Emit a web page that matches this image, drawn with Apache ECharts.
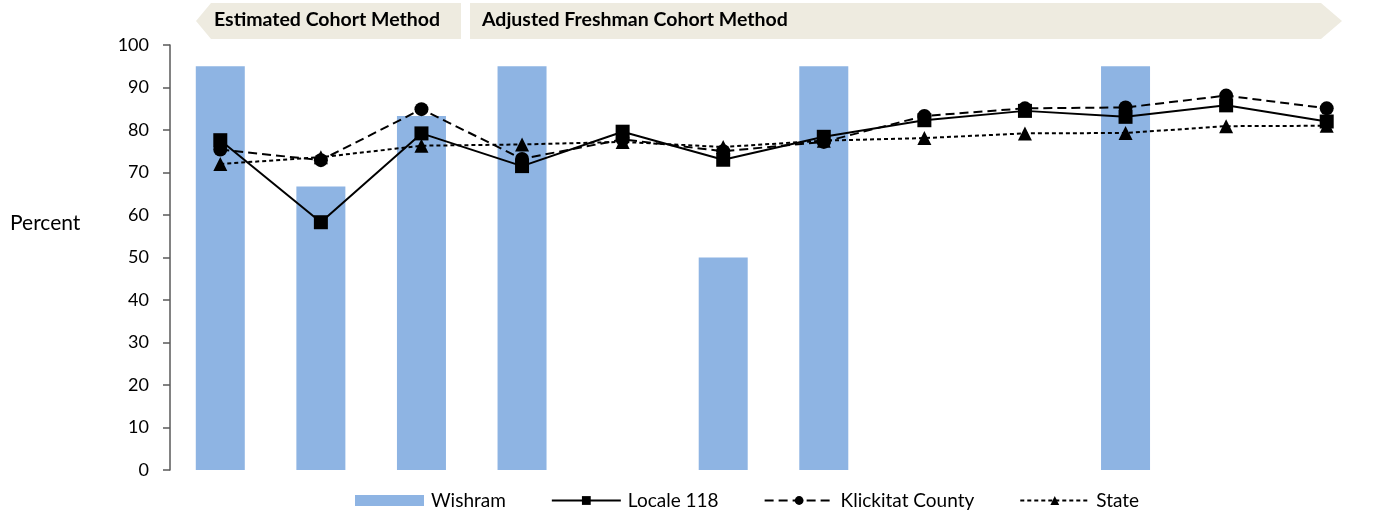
<!DOCTYPE html>
<html>
<head>
<meta charset="utf-8">
<script src="https://cdn.jsdelivr.net/npm/echarts@6/dist/echarts.min.js"></script>
<style>
  html, body { margin: 0; padding: 0; background: #fff; }
  #main { width: 1395px; height: 514px; }
</style>
</head>
<body>
<div id="main"></div>
<script>
// cohorts along the x axis (no labels shown on the chart)
var categories = ['1', '2', '3', '4', '5', '6', '7', '8', '9', '10', '11', '12'];

var wishram = [95, 66.7, 83.3, 95, null, 50, 95, null, null, 95, null, null];
var locale118 = [77.6, 58.3, 79.2, 71.5, 79.6, 73, 78.4, 82.3, 84.5, 83.1, 85.8, 82];
var klickitat = [75.4, 72.9, 84.9, 73.2, 77.8, 75, 77.2, 83.3, 85.1, 85.3, 88.1, 85.1];
var state = [72, 73.6, 76.3, 76.6, 77.2, 76, 77.5, 78.1, 79.2, 79.3, 80.9, 81];

var yTicks = { min: 0, max: 100, interval: 10 };

var banners = ['Estimated Cohort Method', 'Adjusted Freshman Cohort Method'];

var chartDom = document.getElementById('main');
var myChart = echarts.init(chartDom);
var font = 'Lato, "Open Sans", sans-serif';

var option = {
    animation: false,
    textStyle: { fontFamily: font },
    grid: { left: 170, right: 18, top: 45, bottom: 44 },
    legend: {
        left: 350,
        top: 486,
        itemWidth: 69,
        itemHeight: 11,
        itemGap: 45,
        textStyle: { fontSize: 19, color: '#000', fontFamily: font, padding: [0, 0, 0, 2] },
        data: [
            { name: 'Wishram', icon: 'rect' },
            'Locale 118',
            'Klickitat County',
            'State'
        ]
    },
    xAxis: {
        type: 'category',
        data: categories,
        axisLine: { show: false },
        axisTick: { show: false },
        axisLabel: { show: false }
    },
    yAxis: {
        type: 'value',
        min: yTicks.min,
        max: yTicks.max,
        interval: yTicks.interval,
        axisLine: { show: true, lineStyle: { color: '#595959', width: 1.5 } },
        axisTick: { show: true, length: 7, lineStyle: { color: '#595959', width: 1.5 } },
        axisLabel: { fontSize: 18, color: '#000', margin: 21 },
        splitLine: { show: false }
    },
    graphic: [
        {
            type: 'polygon',
            shape: { points: [[196, 21], [211, 3], [461, 3], [461, 39], [211, 39]] },
            style: { fill: '#EEEBE0' }
        },
        {
            type: 'polygon',
            shape: { points: [[470, 3], [1321, 3], [1342, 21], [1321, 39], [470, 39]] },
            style: { fill: '#EEEBE0' }
        },
        {
            type: 'text',
            x: 214,
            y: 20,
            style: {
                text: banners[0], font: 'bold 19.5px ' + font, fill: '#000',
                verticalAlign: 'middle'
            }
        },
        {
            type: 'text',
            x: 482,
            y: 20,
            style: {
                text: banners[1], font: 'bold 19.5px ' + font, fill: '#000',
                verticalAlign: 'middle'
            }
        },
        {
            type: 'text',
            x: 10,
            y: 223,
            style: {
                text: 'Percent', font: '21px ' + font, fill: '#000',
                verticalAlign: 'middle'
            }
        }
    ],
    series: [
        {
            name: 'Wishram',
            type: 'bar',
            data: wishram,
            barWidth: 49,
            itemStyle: { color: '#8EB4E3' }
        },
        {
            name: 'Locale 118',
            type: 'line',
            data: locale118,
            symbol: 'rect',
            symbolSize: 14,
            itemStyle: { color: '#000' },
            lineStyle: { color: '#000', width: 2, type: 'solid' },
            z: 5
        },
        {
            name: 'Klickitat County',
            type: 'line',
            data: klickitat,
            symbol: 'circle',
            symbolSize: 14,
            itemStyle: { color: '#000' },
            lineStyle: { color: '#000', width: 2, type: [9, 5] },
            z: 4
        },
        {
            name: 'State',
            type: 'line',
            data: state,
            symbol: 'triangle',
            symbolSize: 14,
            itemStyle: { color: '#000' },
            lineStyle: { color: '#000', width: 2, type: [4, 3] },
            z: 3
        }
    ]
};

option && myChart.setOption(option);
</script>
</body>
</html>
